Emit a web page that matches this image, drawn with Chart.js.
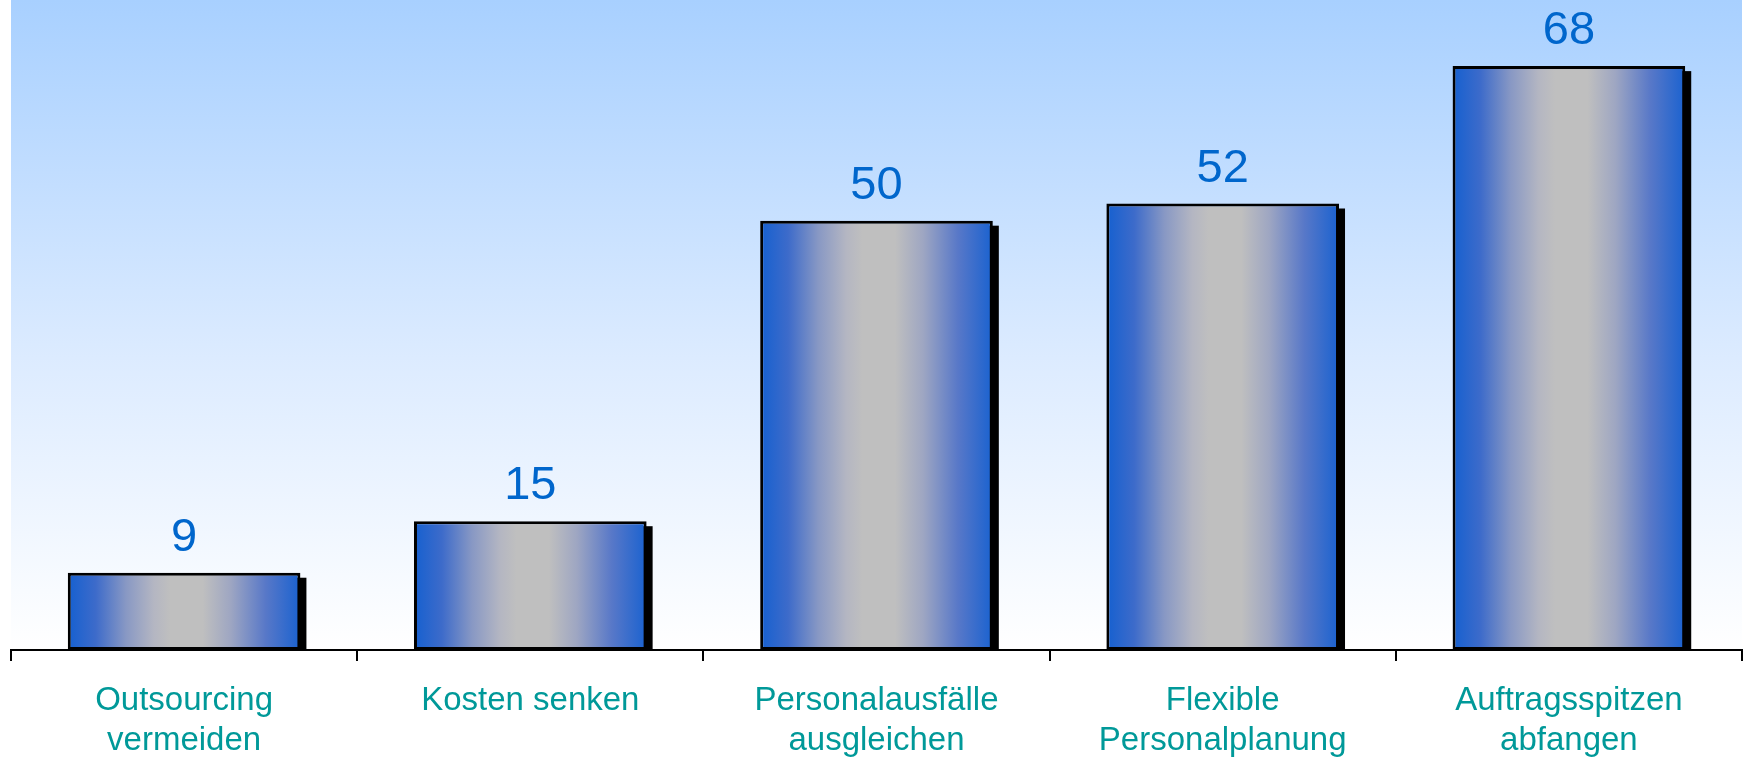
<!DOCTYPE html>
<html>
<head>
<meta charset="utf-8">
<script src="https://cdn.jsdelivr.net/npm/chart.js@4"></script>
<style>
  html, body { margin: 0; padding: 0; background: #fff; }
  #wrap { width: 1744px; height: 759px; }
</style>
</head>
<body>
<div id="wrap"><canvas id="myChart"></canvas></div>
<script>
  // Daten
  const labels = [
    ["Outsourcing", "vermeiden"],
    "Kosten senken",
    ["Personalausfälle", "ausgleichen"],
    ["Flexible", "Personalplanung"],
    ["Auftragsspitzen", "abfangen"],
  ];
  const values = [9, 15, 50, 52, 68];
  const yMax = 75.7;

  const barPct = 0.672;
  const font = "'Liberation Sans', Arial, sans-serif";

  // Balken: horizontaler Verlauf blau - grau - blau
  function barGradient(c) {
    const chart = c.chart;
    const x = chart.scales.x;
    if (!x || !chart.chartArea) return "#1a62cf";
    const cx = x.getPixelForValue(c.dataIndex);
    const half = (x.width / labels.length) * barPct / 2;
    const g = chart.ctx.createLinearGradient(cx - half, 0, cx + half, 0);
    g.addColorStop(0, "#1560d0");
    g.addColorStop(0.12, "#3d6bca");
    g.addColorStop(0.25, "#8898c4");
    g.addColorStop(0.37, "#b4b6c2");
    g.addColorStop(0.44, "#bfbfbf");
    g.addColorStop(0.58, "#bfbfbf");
    g.addColorStop(0.7, "#9ea6c2");
    g.addColorStop(0.85, "#5878c8");
    g.addColorStop(1, "#1a62d0");
    return g;
  }

  // Hintergrund der Zeichenfläche
  const plotBackground = {
    id: "plotBackground",
    beforeDraw(chart) {
      const { ctx, chartArea: a } = chart;
      const g = ctx.createLinearGradient(0, a.top, 0, a.bottom);
      g.addColorStop(0, "#a8d0ff");
      g.addColorStop(0.55, "#dcebff");
      g.addColorStop(1, "#ffffff");
      ctx.save();
      ctx.fillStyle = g;
      ctx.fillRect(a.left, a.top, a.right - a.left, a.bottom - a.top);
      ctx.restore();
    },
  };

  // Schatten rechts unten
  const barShadow = {
    id: "barShadow",
    beforeDatasetsDraw(chart) {
      const ctx = chart.ctx;
      ctx.save();
      ctx.fillStyle = "#000";
      chart.getDatasetMeta(0).data.forEach((bar) => {
        ctx.fillRect(bar.x - bar.width / 2 + 6, bar.y + 5, bar.width, bar.base - bar.y - 5);
      });
      ctx.restore();
    },
  };

  // Werte über den Balken
  const valueLabels = {
    id: "valueLabels",
    afterDatasetsDraw(chart) {
      const ctx = chart.ctx;
      ctx.save();
      ctx.fillStyle = "#0066cc";
      ctx.font = "47px " + font;
      ctx.textAlign = "center";
      ctx.textBaseline = "alphabetic";
      chart.getDatasetMeta(0).data.forEach((bar, i) => {
        ctx.fillText(values[i], bar.x, bar.y - 22);
      });
      ctx.restore();
    },
  };

  const config = {
    type: "bar",
    data: {
      labels: labels,
      datasets: [
        {
          data: values,
          backgroundColor: barGradient,
          borderColor: "#000",
          borderWidth: 3,
          borderSkipped: false,
          barPercentage: barPct,
          categoryPercentage: 1,
        },
      ],
    },
    plugins: [plotBackground, barShadow, valueLabels],
    options: {
      responsive: true,
      maintainAspectRatio: false,
      animation: false,
      layout: { padding: { left: 11, right: 2, top: 0, bottom: 0 } },
      plugins: {
        legend: { display: false },
        tooltip: { enabled: false },
      },
      scales: {
        x: {
          grid: {
            display: true,
            offset: true,
            drawOnChartArea: false,
            drawTicks: true,
            tickLength: 11,
            color: "#000",
            lineWidth: 2,
          },
          border: { display: true, color: "#000", width: 2 },
          ticks: {
            color: "#009999",
            font: { family: font, size: 33, lineHeight: 1.24 },
            padding: 19,
            maxRotation: 0,
            autoSkip: false,
          },
          afterFit(scale) {
            scale.height = 109;
          },
        },
        y: {
          display: false,
          min: 0,
          max: yMax,
        },
      },
    },
  };

  new Chart(document.getElementById("myChart"), config);
</script>
</body>
</html>
